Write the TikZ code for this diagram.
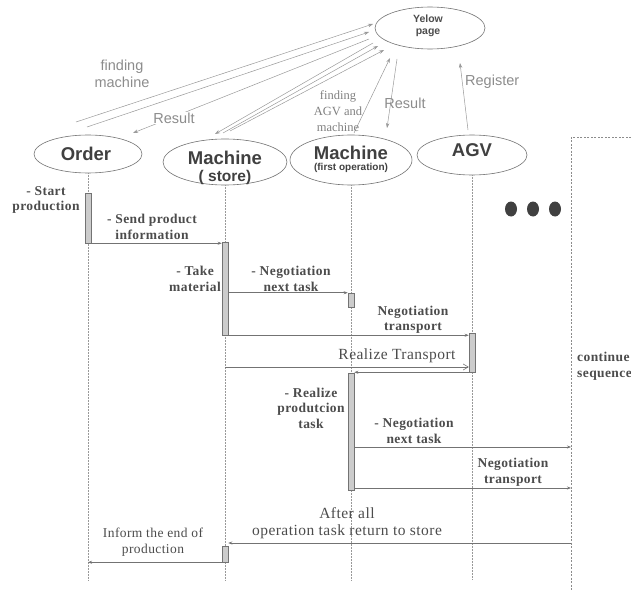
\documentclass[tikz,border=0pt]{standalone}
\usepackage{fontspec}
\setmainfont{Liberation Serif}
\setsansfont{Liberation Sans}
\newfontfamily\seqf[LetterSpace=3]{Liberation Serif}
\usetikzlibrary{shapes.geometric,arrows.meta}
\begin{document}
\begin{tikzpicture}[x=1pt,y=-1pt,
  ell/.style={draw=black!55, ellipse, inner sep=0pt, line width=0.6pt},
  etxt/.style={font=\fontsize{18.5}{20}\sffamily\bfseries, text=black!75, inner sep=0pt},
  topl/.style={draw=black!40, line width=0.5pt, -{Stealth[length=5pt,width=3.5pt]}},
  toplbl/.style={font=\fontsize{14.5}{16.5}\sffamily, text=black!45, align=center, inner sep=0pt},
  life/.style={draw=black!40, densely dotted, line width=0.5pt},
  act/.style={draw=black!55, fill=black!20, minimum width=6pt, inner sep=0pt, line width=0.5pt},
  msg/.style={draw=black!55, line width=0.6pt, -{Stealth[length=4pt,width=3pt]}},
  openmsg/.style={draw=black!55, line width=0.6pt, -{Straight Barb[length=5pt,width=6pt]}},
  seqb/.style={font=\fontsize{13.5}{15.5}\seqf\bfseries, text=black!70, align=center, inner sep=0pt},
  seqr/.style={font=\fontsize{13.5}{15.5}\seqf, text=black!70, align=center, inner sep=0pt},
]
\useasboundingbox (0,0) rectangle (631,591);

% ---------- top ellipses ----------
\node[ell, minimum width=110pt, minimum height=42pt] (yp) at (430,28) {};
\node[font=\fontsize{10.5}{12}\sffamily\bfseries, text=black!70, align=center, inner sep=0pt] (yptxt) at (428,26) {Yelow\\page};

\node[ell, minimum width=108pt, minimum height=38pt] (order) at (88,154) {};
\node[etxt] (ordertxt) at (86,154) {Order};

\node[ell, minimum width=124pt, minimum height=46pt] (store) at (225,162) {};
\node[etxt] (storetxt) at (225,158) {Machine};
\node[font=\fontsize{15.5}{17}\sffamily\bfseries, text=black!75, inner sep=0pt] (storesub) at (225,177) {( store)};

\node[ell, minimum width=122pt, minimum height=50pt] (first) at (351,160) {};
\node[etxt] (firsttxt) at (351,153) {Machine};
\node[font=\fontsize{10}{12}\sffamily\bfseries, text=black!75, inner sep=0pt] (firstsub) at (351,168) {(first operation)};

\node[ell, minimum width=110pt, minimum height=40pt] (agv) at (472,155) {};
\node[etxt] (agvtxt) at (472,150) {AGV};

% ---------- top connectors ----------
\coordinate (o1) at (76,122);   \coordinate (y1) at (373,24);
\coordinate (o2) at (87,127);   \coordinate (y2) at (369,32);
\coordinate (y3) at (369,39);   \coordinate (o3) at (133,133);
\coordinate (y4) at (373,43);   \coordinate (s1) at (215,134);
\coordinate (s2) at (223,133);  \coordinate (y5) at (378,46);
\coordinate (s3) at (230,131);  \coordinate (y6) at (384,50);
\coordinate (f1) at (354,133);  \coordinate (y7) at (390,58);
\coordinate (y8) at (397,59);   \coordinate (f2) at (387,128);
\coordinate (a1) at (468,130);  \coordinate (y9) at (460,63);

\draw[topl] (o1) -- (y1);
\draw[topl] (o2) -- (y2);
\draw[topl] (y3) -- (o3);
\draw[topl] (y4) -- (s1);
\draw[topl] (s2) -- (y5);
\draw[topl] (s3) -- (y6);
\draw[topl] (f1) -- (y7);
\draw[topl] (y8) -- (f2);
\draw[topl] (a1) -- (y9);

\node[toplbl] (lfm) at (122,74) {finding\\machine};
\node[toplbl, fill=white, inner sep=1pt] (lres1) at (174,118) {Result};
\node[font=\fontsize{12.5}{16}\selectfont, text=black!50, align=center, inner sep=0pt] (lfa) at (338,111) {finding\\AGV and\\machine};
\node[toplbl] (lres2) at (405,103) {Result};
\node[toplbl, anchor=west] (lreg) at (465,82) {Register};

% ---------- lifelines ----------
\coordinate (bot) at (0,580);
\draw[life] (order.south) -- (order.south |- bot);
\draw[life] (store.south) -- (store.south |- bot);
\draw[life] (first.south) -- (first.south |- bot);
\draw[life] (agv.south) -- (agv.south |- bot);
\coordinate (ctop) at (571,137);
\coordinate (cright) at (631,137);
\coordinate (cbot) at (571,591);
\draw[draw=black!45, dash pattern=on 2pt off 1.5pt, line width=0.5pt] (cright) -- (ctop) -- (cbot);

% ---------- activation boxes ----------
\node[act, minimum height=50pt] (ob1) at (88,218) {};
\node[act, minimum height=93pt] (sb1) at (225,288.5) {};
\node[act, minimum height=14pt] (fb1) at (351,300) {};
\node[act, minimum height=39pt] (ab1) at (472,352.5) {};
\node[act, minimum height=117pt] (fb2) at (351,431.5) {};
\node[act, minimum height=16pt] (sb2) at (225,554) {};

% ---------- dots ----------
\fill[black!75] (511,209) ellipse (6 and 7.5);
\fill[black!75] (533,209) ellipse (6 and 7.5);
\fill[black!75] (555,209) ellipse (6 and 7.5);

% ---------- messages ----------
\draw[msg] (ob1.south east) -- (ob1.south east -| sb1.west);
\draw[msg] (sb1.east |- fb1.north) -- (fb1.north west);
\draw[msg] (sb1.south east) -- (sb1.south east -| ab1.west);
\coordinate (rt) at (225,367);
\draw[openmsg] (rt) -- (rt -| ab1.west);
\draw[msg] (ab1.south west) -- (ab1.south west -| fb2.east);
\coordinate (c1) at (571,447);
\coordinate (c2) at (571,488);
\coordinate (c3) at (571,543);
\draw[msg] (c1 -| fb2.east) -- (c1);
\draw[msg] (c2 -| fb2.east) -- (c2);
\draw[msg] (c3) -- (c3 -| sb2.east);
\draw[msg] (sb2.south west) -- (sb2.south west -| order.south);

% ---------- labels ----------
\node[seqb] (l1) at (46,200) {- Start\\production};
\node[seqb] (l2) at (152,227) {- Send product\\information};
\node[seqb] (l3) at (195,279) {- Take\\material};
\node[seqb] (l4) at (291,279) {- Negotiation\\next task};
\node[seqb] (l5) at (413,320) {Negotiation\\transport};
\node[font=\fontsize{15.5}{17}\seqf, text=black!70, inner sep=0pt] (l6) at (397,356) {Realize Transport};
\node[seqb] (l7) at (311,408) {- Realize\\produtcion\\task};
\node[seqb] (l8) at (414,431) {- Negotiation\\next task};
\node[seqb] (l9) at (513,472) {Negotiation\\transport};
\node[font=\fontsize{15.5}{17}\seqf, text=black!70, align=center, inner sep=0pt] (l10) at (347,523) {After all\\operation task return to store};
\node[seqr] (l11) at (153,542) {Inform the end of\\production};
\node[seqb, align=left, anchor=west] (l12) at (577,366) {continue\\sequence};
\end{tikzpicture}
\end{document}
